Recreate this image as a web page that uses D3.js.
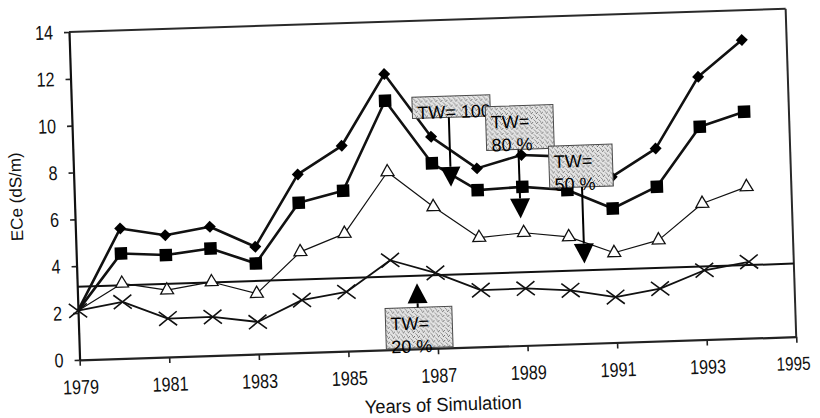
<!DOCTYPE html>
<html>
<head>
<meta charset="utf-8">
<script src="https://cdn.jsdelivr.net/npm/d3@7"></script>
<style>
  html, body { margin: 0; padding: 0; background: #fff; }
  svg { display: block; font-family: "Liberation Sans", Arial, sans-serif; }
</style>
</head>
<body>
<svg id="chart" width="820" height="418"></svg>
<script>
// Simulated soil salinity (ECe, dS/m) per year under four irrigation
// treatments (TW = share of applied water), with a reference level.
const years  = [1979, 1980, 1981, 1982, 1983, 1984, 1985, 1986, 1987, 1988, 1989, 1990, 1991, 1992, 1993, 1994];
const tw100  = [2.1, 5.55, 5.20, 5.50, 4.58, 7.61, 8.77, 11.77, 9.03, 7.62, 8.13, 8.00, 7.07, 8.22, 11.22, 12.73];
const tw80   = [2.1, 4.48, 4.35, 4.57, 3.87, 6.40, 6.85, 10.63, 7.90, 6.69, 6.77, 6.57, 5.72, 6.59, 9.09, 9.67];
const tw50   = [2.1, 3.20, 2.85, 3.14, 2.58, 4.30, 5.02, 7.59, 6.04, 4.66, 4.81, 4.57, 3.83, 4.31, 5.81, 6.46];
const tw20   = [2.1, 2.41, 1.64, 1.65, 1.37, 2.24, 2.53, 3.82, 3.22, 2.42, 2.43, 2.29, 1.94, 2.24, 2.96, 3.26];
const threshold = 3.12;

const xTicks = [1979, 1981, 1983, 1985, 1987, 1989, 1991, 1993, 1995];
const yTicks = [0, 2, 4, 6, 8, 10, 12, 14];

// Callout boxes, anchored in data units (year, ECe)
const noteLabels = [["TW= 100"], ["TW=", "80 %"], ["TW=", "50 %"], ["TW=", "20 %"]];
const noteBoxes  = [[1986.60, 10.74, 1988.34, 9.84],
                    [1988.23, 10.24, 1989.74, 8.37],
                    [1989.61, 8.47, 1991.03, 6.68],
                    [1985.85, 1.77, 1987.34, 0.04]];
const noteArrows = [[1987.41, 9.84, 6.87],
                    [1988.94, 8.37, 5.42],
                    [1990.33, 6.68, 3.41],
                    [1986.58, 1.77, 2.80]];

// ---- layout ----
const plot = { left: 69, top: 32, width: 717, height: 328 };
const tilt = -1.85;

const svg = d3.select("#chart");
const defs = svg.append("defs");
const pat = defs.append("pattern")
  .attr("id", "stipple").attr("patternUnits", "userSpaceOnUse")
  .attr("width", 5).attr("height", 5);
pat.append("rect").attr("width", 5).attr("height", 5).attr("fill", "#e4e4e4");
[[0, 0, "#6f6f6f"], [2, 3, "#8a8a8a"], [4, 1, "#666"], [1, 2, "#a8a8a8"], [3, 4, "#909090"], [3, 0, "#b0b0b0"]]
  .forEach(([a, b, c]) => pat.append("rect").attr("x", a).attr("y", b)
    .attr("width", 1).attr("height", 1).attr("fill", c));

const g = svg.append("g")
  .attr("transform", `rotate(${tilt},${plot.left},${plot.top}) translate(${plot.left},${plot.top})`);

const x = d3.scaleLinear().domain([1979, 1995]).range([0, plot.width]);
const y = d3.scaleLinear().domain([0, 14]).range([plot.height, 0]);

// frame: top and right edges
g.append("line").attr("x1", 0).attr("x2", plot.width).attr("y1", 0).attr("y2", 0)
  .attr("stroke", "#2a2a2a").attr("stroke-width", 2);
g.append("line").attr("x1", plot.width).attr("x2", plot.width).attr("y1", 0).attr("y2", plot.height)
  .attr("stroke", "#2a2a2a").attr("stroke-width", 2);

// axes
const gx = g.append("g").attr("transform", `translate(0,${plot.height})`)
  .call(d3.axisBottom(x).tickValues(xTicks).tickFormat(d3.format("d"))
    .tickSizeInner(6).tickSizeOuter(0).tickPadding(14));
gx.attr("font-family", null).attr("font-size", null);
gx.select(".domain").attr("stroke", "#222").attr("stroke-width", 2.2);
gx.selectAll(".tick line").attr("stroke", "#222").attr("stroke-width", 1.6);
gx.selectAll(".tick text").attr("font-size", 20).attr("fill", "#111")
  .attr("textLength", 36).attr("lengthAdjust", "spacingAndGlyphs");
// last label sits at the window edge: keep it fully inside
gx.selectAll(".tick text").filter(d => d === 1995)
  .attr("x", -4).attr("font-size", 19).attr("textLength", 34);

const gy = g.append("g")
  .call(d3.axisLeft(y).tickValues(yTicks).tickFormat(d3.format("d"))
    .tickSizeInner(5).tickSizeOuter(0).tickPadding(11));
gy.attr("font-family", null).attr("font-size", null);
gy.select(".domain").attr("stroke", "#111").attr("stroke-width", 2.2);
gy.selectAll(".tick line").attr("stroke", "#222").attr("stroke-width", 1.6);
gy.selectAll(".tick text").attr("font-size", 20).attr("fill", "#111")
  .attr("textLength", d => String(d).length * 9).attr("lengthAdjust", "spacingAndGlyphs");

// axis titles
g.append("text")
  .attr("transform", `translate(-58,163) rotate(-90)`)
  .attr("text-anchor", "middle").attr("dominant-baseline", "central")
  .attr("font-size", 17).attr("fill", "#111")
  .text("ECe (dS/m)");
g.append("text")
  .attr("x", 362).attr("y", 391)
  .attr("text-anchor", "middle").attr("font-size", 19).attr("fill", "#111")
  .attr("textLength", 157).attr("lengthAdjust", "spacingAndGlyphs")
  .text("Years of Simulation");

// reference level
g.append("line")
  .attr("x1", x(1979)).attr("x2", x(1995))
  .attr("y1", y(threshold)).attr("y2", y(threshold))
  .attr("stroke", "#111").attr("stroke-width", 2);

const line = d3.line().x((d, i) => x(years[i])).y(d => y(d));

function drawSeries(values, width, marker) {
  g.append("path").datum(values)
    .attr("d", line).attr("fill", "none")
    .attr("stroke", "#111").attr("stroke-width", width).attr("stroke-linejoin", "round");
  const pts = values.map((v, i) => ({ yr: years[i], v }));
  marker(g.append("g").selectAll("path").data(pts).join("path")
    .attr("transform", d => `translate(${x(d.yr)},${y(d.v)})`));
}

// TW = 20 %: crosses
drawSeries(tw20, 1.8, sel => sel
  .attr("d", "M-9,-7L9,7M-9,7L9,-7")
  .attr("fill", "none").attr("stroke", "#111").attr("stroke-width", 1.6));

// TW = 50 %: open triangles
drawSeries(tw50, 1.2, sel => sel
  .filter(d => d.yr > 1979)
  .attr("d", d3.symbol(d3.symbolTriangle, 72))
  .attr("fill", "#fff").attr("stroke", "#111").attr("stroke-width", 1.3));

// TW = 80 %: filled squares
drawSeries(tw80, 2.6, sel => sel
  .filter(d => d.yr > 1979)
  .attr("d", d3.symbol(d3.symbolSquare, 156))
  .attr("fill", "#000"));

// TW = 100 %: filled diamonds
drawSeries(tw100, 2.6, sel => sel
  .filter(d => d.yr > 1979)
  .attr("d", d3.symbol(d3.symbolSquare, 72))
  .attr("transform", d => `translate(${x(d.yr)},${y(d.v)}) rotate(45)`)
  .attr("fill", "#000"));

// callouts with arrows
noteLabels.forEach((lines, k) => {
  const [x0, v0, x1, v1] = noteBoxes[k];
  const bx = x(x0), by = y(v0), bw = x(x1) - x(x0), bh = y(v1) - y(v0);
  const ng = g.append("g");
  ng.append("rect").attr("x", bx).attr("y", by).attr("width", bw).attr("height", bh)
    .attr("fill", "url(#stipple)").attr("stroke", "#4a4a4a").attr("stroke-width", 1);
  lines.forEach((t, j) => ng.append("text")
    .attr("x", bx + 5).attr("y", by + 22 + j * 23)
    .attr("font-size", 18).attr("fill", "#000").text(t));

  const [ax, from, to] = noteArrows[k];
  const px = x(ax), y0 = y(from), y1 = y(to);
  const dir = y1 > y0 ? 1 : -1;
  const head = 20, half = 10;
  ng.append("line").attr("x1", px).attr("x2", px)
    .attr("y1", y0).attr("y2", y1 - dir * head)
    .attr("stroke", "#000").attr("stroke-width", 2);
  ng.append("path")
    .attr("d", `M${px},${y1}L${px - half},${y1 - dir * head}L${px + half},${y1 - dir * head}Z`)
    .attr("fill", "#000");
});
</script>
</body>
</html>
